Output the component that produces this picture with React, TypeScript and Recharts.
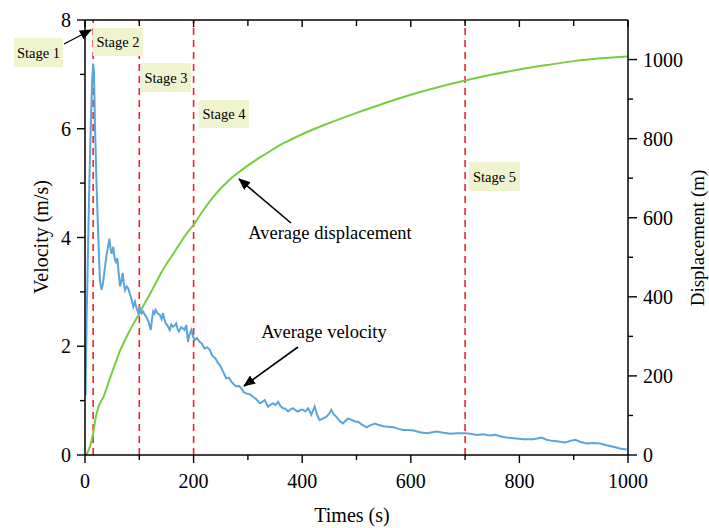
import React from "react";
import { ComposedChart, Line, XAxis, YAxis, ReferenceLine } from "recharts";

// ---- data ----
const velTime = [1,3,6,8,10.5,13,15,16.5,18.5,21.5,24.5,27.5,30.5,33,36.8,40,42,44.8,47,49,52,55,57,59.5,62,64.5,67,69.4,71.5,73.7,77,79.8,83,86,89,92,95,98.2,101,104,107,110,113,117,121,123.5,125.6,128,130,134,137.6,141,143.7,146,148.6,152,156,159,162,165,168,171,173,177,180,183,186.7,188.5,189.7,192,196,199,202,206,211,215,220,225,229.6,233,235.7,240,245,248,251,255,260,265,269.6,274,278.8,283,288,292,297,303,309.6,315,322,326,331,334,337,341,346,351,355.5,360,364.7,369,374,379,383,388,392,397,401.5,406,410.7,414,416.8,420,423,427,432,438,444,449,453.6,458,463,469.6,475,480,484,488,494,499.6,503,510,518.8,526,534,541,549.6,558,568,577,586,595,605,617,629.6,640,648,660,672.6,686,700,710,721,733,745.6,755,766,776.6,790,807,825.8,841,850,859.6,872,884,894,902.6,913,924,936,948.5,960,973,985,997.5];
const velocity = [1.1,2.5,4.0,5.0,6.0,6.85,7.2,7.05,6.0,4.9,4.0,3.2,3.04,3.15,3.46,3.7,3.8,3.98,3.8,3.7,3.83,3.59,3.55,3.62,3.35,3.1,3.2,3.35,3.15,3.03,3.1,3.06,2.95,2.85,2.73,2.82,2.7,2.61,2.7,2.6,2.64,2.58,2.54,2.45,2.3,2.5,2.64,2.6,2.67,2.6,2.58,2.5,2.61,2.5,2.42,2.38,2.3,2.4,2.36,2.38,2.42,2.3,2.27,2.35,2.33,2.3,2.39,2.2,2.08,2.2,2.3,2.18,2.11,2.15,2.08,2.05,1.96,1.98,1.94,1.85,1.81,1.78,1.69,1.66,1.6,1.52,1.41,1.42,1.35,1.3,1.26,1.27,1.23,1.16,1.13,1.12,1.07,1.03,0.95,0.97,1.01,0.95,0.89,0.92,0.95,0.92,0.98,0.9,0.86,0.85,0.8,0.84,0.86,0.82,0.8,0.83,0.83,0.8,0.86,0.8,0.74,0.82,0.89,0.75,0.64,0.67,0.7,0.75,0.83,0.75,0.7,0.62,0.58,0.63,0.67,0.66,0.63,0.61,0.61,0.56,0.51,0.55,0.58,0.55,0.53,0.52,0.51,0.48,0.46,0.46,0.45,0.42,0.4,0.42,0.43,0.41,0.39,0.4,0.4,0.39,0.37,0.38,0.36,0.37,0.34,0.32,0.31,0.29,0.29,0.32,0.28,0.26,0.25,0.23,0.26,0.28,0.24,0.21,0.22,0.21,0.18,0.15,0.12,0.1];

const dispTime = [0,2,5,9,12,15,18,20,23,26,30,34,40,46,52,58,64,70.6,78,86,93,100,110,120,130,141,152,162.7,175,187,199.5,212,224,236,248.6,261,273,285,297.8,316,334.6,352,371,395,420,445,470,500,550,600,650,700,750,800,850,900,950,1000];
const displacement = [0,0,8,21,36,55,80,97,113,126,137,147,170,194,217,240,262,282,303,324,341,358,384,408,434,463,487,509,535,560,581,607,631,652,672,689,704,717,730,747,763,778,792,808,823,837,850,865,889,911,930,947,962,975,986,996,1003,1008];

const stageTimes = [15, 100, 200, 700];
const stageNames = ["Stage 1", "Stage 2", "Stage 3", "Stage 4", "Stage 5"];

const xTicks = [0,100,200,300,400,500,600,700,800,900,1000];
const leftTicks = [0,1,2,3,4,5,6,7,8];
const rightTicks = [0,100,200,300,400,500,600,700,800,900,1000];

const velData = velTime.map((t, i) => ({ t, v: velocity[i] }));
const dispData = dispTime.map((t, i) => ({ t, d: displacement[i] }));

const FONT = "'Liberation Serif', 'Times New Roman', serif";

const BottomTick = (p: any) => {
  const { x, y, payload } = p;
  const v = payload.value;
  const major = v % 200 === 0;
  return (
    <g>
      <line x1={x} y1={y} x2={x} y2={y + (major ? 8 : 5)} stroke="#000" strokeWidth={1.4} />
      {major && (
        <text x={x} y={y + 33} textAnchor="middle" fontSize={20} fontFamily={FONT} fill="#000">{v}</text>
      )}
    </g>
  );
};

const TopTick = (p: any) => {
  const { x, y, payload } = p;
  const major = payload.value % 200 === 0;
  return <line x1={x} y1={y} x2={x} y2={y + (major ? 7 : 6)} stroke="#000" strokeWidth={1.4} />;
};

const LeftTick = (p: any) => {
  const { x, y, payload } = p;
  const v = payload.value;
  const major = v % 2 === 0;
  return (
    <g>
      <line x1={x} y1={y} x2={x - (major ? 8 : 5)} y2={y} stroke="#000" strokeWidth={1.4} />
      {major && (
        <text x={x - 14} y={y + 7} textAnchor="end" fontSize={20} fontFamily={FONT} fill="#000">{v}</text>
      )}
    </g>
  );
};

const RightTick = (p: any) => {
  const { x, y, payload } = p;
  const v = payload.value;
  const major = v % 200 === 0;
  return (
    <g>
      <line x1={x} y1={y} x2={x + (major ? 9 : 5)} y2={y} stroke="#000" strokeWidth={1.4} />
      {major && (
        <text x={x + 15} y={y + 7} textAnchor="start" fontSize={20} fontFamily={FONT} fill="#000">{v}</text>
      )}
    </g>
  );
};

const boxes = [
  { x: 14, y: 38, w: 49, h: 29 },
  { x: 93, y: 28, w: 50, h: 28 },
  { x: 141, y: 63, w: 50, h: 29 },
  { x: 199, y: 100, w: 50, h: 28 },
  { x: 469, y: 162, w: 51, h: 29 },
];

export default function App() {
  return (
    <div style={{ position: "absolute", left: 0, top: 0, width: 709, height: 528, background: "#fff" }}>
      <ComposedChart width={709} height={528} margin={{ top: 20, right: 0, bottom: 0, left: 0 }}>
        <XAxis
          xAxisId="b"
          type="number"
          dataKey="t"
          domain={[0, 1000]}
          ticks={xTicks}
          allowDataOverflow
          height={73}
          tickSize={0}
          tickMargin={0}
          tickLine={false}
          tick={<BottomTick />}
          axisLine={{ stroke: "#000", strokeWidth: 1.5 }}
          interval={0}
        />
        <XAxis
          xAxisId="top"
          orientation="top"
          mirror
          type="number"
          dataKey="t"
          domain={[0, 1000]}
          ticks={xTicks}
          allowDataOverflow
          height={10}
          tickSize={0}
          tickMargin={0}
          tickLine={false}
          tick={<TopTick />}
          axisLine={{ stroke: "#000", strokeWidth: 1.5 }}
          interval={0}
        />
        <YAxis
          yAxisId="left"
          orientation="left"
          type="number"
          domain={[0, 8]}
          ticks={leftTicks}
          allowDataOverflow
          width={85}
          tickSize={0}
          tickMargin={0}
          tickLine={false}
          tick={<LeftTick />}
          axisLine={{ stroke: "#000", strokeWidth: 1.5 }}
          interval={0}
        />
        <YAxis
          yAxisId="right"
          orientation="right"
          type="number"
          domain={[0, 1100]}
          ticks={rightTicks}
          allowDataOverflow
          width={81}
          tickSize={0}
          tickMargin={0}
          tickLine={false}
          tick={<RightTick />}
          axisLine={{ stroke: "#000", strokeWidth: 1.5 }}
          interval={0}
        />
        {stageTimes.map((s) => (
          <ReferenceLine
            key={s}
            x={s}
            xAxisId="b"
            yAxisId="left"
            stroke="#f0202c"
            strokeWidth={1.6}
            strokeDasharray="7 5"
          />
        ))}
        <Line
          data={dispData}
          xAxisId="b"
          yAxisId="right"
          dataKey="d"
          type="monotone"
          stroke="#77cc44"
          strokeWidth={2}
          dot={false}
          isAnimationActive={false}
        />
        <Line
          data={velData}
          xAxisId="b"
          yAxisId="left"
          dataKey="v"
          type="linear"
          stroke="#5aa5dc"
          strokeWidth={2}
          dot={false}
          isAnimationActive={false}
        />
      </ComposedChart>
      <svg
        width={709}
        height={528}
        style={{ position: "absolute", left: 0, top: 0, pointerEvents: "none" }}
      >
        <defs>
          <marker id="ah" markerWidth="12" markerHeight="10" refX="11" refY="5" orient="auto" markerUnits="userSpaceOnUse">
            <path d="M0,0 L12,5 L0,10 z" fill="#000" />
          </marker>
        </defs>
        {boxes.map((b, i) => (
          <g key={i}>
            <rect x={b.x} y={b.y} width={b.w} height={b.h} fill="#eff4cf" />
            <text
              x={b.x + b.w / 2}
              y={b.y + b.h / 2 + 5}
              textAnchor="middle"
              fontSize={14.5}
              fontFamily={FONT}
              fill="#000"
            >
              {stageNames[i]}
            </text>
          </g>
        ))}
        <line x1={64} y1={44} x2={91} y2={30} stroke="#000" strokeWidth={1.4} markerEnd="url(#ah)" />
        <line x1={291} y1={223} x2={239} y2={179} stroke="#000" strokeWidth={1.6} markerEnd="url(#ah)" />
        <line x1={298} y1={347} x2={244} y2={386} stroke="#000" strokeWidth={1.6} markerEnd="url(#ah)" />
        <text x={330} y={239} textAnchor="middle" fontSize={18.5} fontFamily={FONT} fill="#000">Average displacement</text>
        <text x={324} y={338} textAnchor="middle" fontSize={18.5} fontFamily={FONT} fill="#000">Average velocity</text>
        <text x={352} y={522} textAnchor="middle" fontSize={20} fontFamily={FONT} fill="#000">Times (s)</text>
        <text
          x={41}
          y={237}
          textAnchor="middle"
          dominantBaseline="central"
          fontSize={20}
          fontFamily={FONT}
          fill="#000"
          transform="rotate(-90 41 237)"
        >
          Velocity (m/s)
        </text>
        <text
          x={697}
          y={238}
          textAnchor="middle"
          dominantBaseline="central"
          fontSize={19}
          fontFamily={FONT}
          fill="#000"
          transform="rotate(-90 697 238)"
        >
          Displacement (m)
        </text>
      </svg>
    </div>
  );
}
